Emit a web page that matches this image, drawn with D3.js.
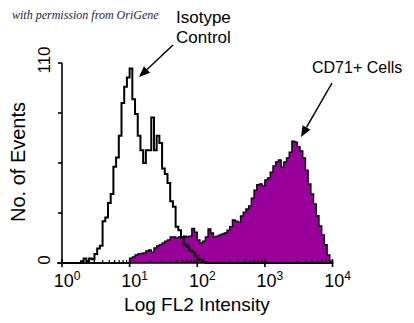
<!DOCTYPE html>
<html><head><meta charset="utf-8">
<script src="https://cdn.jsdelivr.net/npm/d3@7"></script>
<style>body{margin:0;background:#fff}svg{display:block}</style>
</head><body>
<script>
// ---- data ----
const binWidthLog = 0.04; // width of each histogram channel in decades
const isotypeCounts = [
 0,0,0,0,0,0,0,1,2.5,1, 2.5,2,5,8,9.5,23,25,33,38,53,
 58,70,88,97,102,107,90,82,70,62, 55,62,62,80,62,70,66,52,49,44,
 34,31,20,18,14,10,9,7,6,4, 2,1.5,0.5,0,0,0,0,0,0,0,
 0,0,0,0,0,0,0,0,0,0, 0,0,0,0,0,0,0,0,0,0,
 0,0,0,0,0,0,0,0,0,0, 0,0,0,0,0,0,0,0,0,0];
const cd71Counts = [
 0,0,0,0,0,0,0,0,0,0, 0,0,0,0,0,0,0,0,0,0,
 0,0,0,0,0,2.7,3.3,4.4,5,5.2, 5.5,6.6,7.2,6,8.3,9.4,10,11,12,12.7,
 14.3,14.3,13.8,14.3,14.3,14.8,14.3,14.8,19,17, 12.7,11,12,14.3,18.7,16.5,14.3,14.8,15.4,16,
 16.5,18,20,23.7,23,22.5,25.9,28,29.7,31.4, 35.7,40,43,43.5,42.4,45.7,46.8,50,53.4,55.6,
 56.7,52.8,55.6,57.8,61,67,66.5,64,61.6,57.8, 51,43.5,38,32.5,26,20.4,15.4,10,4.4,1];
const xDecades = [1,10,100,1000,10000];
const xExponents = ["0","1","2","3","4"];
const yTicks = [0,27.5,55,82.5,110];
const yTickLabels = ["0","","","","110"];

const W=414,H=323;
const svg=d3.select("body").append("svg").attr("width",W).attr("height",H);
const x=d3.scaleLog().domain([1,10000]).range([62,332.5]);
const y=d3.scaleLinear().domain([0,110]).range([263,63]);

function stepPoints(counts){
  const pts=counts.map((c,i)=>[Math.pow(10,i*binWidthLog),c]);
  pts.push([Math.pow(10,counts.length*binWidthLog),counts[counts.length-1]]);
  return pts;
}
const cdPts=stepPoints(cd71Counts);
const isoPts=stepPoints(isotypeCounts);

const area=d3.area().x(d=>x(d[0])).y0(y(0)).y1(d=>y(d[1])).curve(d3.curveStepAfter);
const line=d3.line().x(d=>x(d[0])).y(d=>y(d[1])).curve(d3.curveStepAfter);

svg.append("path").attr("d",area(cdPts)).attr("fill","#990099").attr("stroke","none");
svg.append("path").attr("d",line(cdPts)).attr("fill","none").attr("stroke","#000").attr("stroke-width",1.4);
svg.append("path").attr("d",line(isoPts)).attr("fill","none").attr("stroke","#000").attr("stroke-width",2);

// axes
const ax=svg.append("g").attr("stroke","#000").attr("stroke-width",1.6);
ax.append("line").attr("x1",62).attr("x2",62).attr("y1",y(110)).attr("y2",y(0));
ax.append("line").attr("x1",57).attr("x2",x(10000)+1).attr("y1",y(0)).attr("y2",y(0));
yTicks.forEach(t=>ax.append("line").attr("x1",58).attr("x2",62).attr("y1",y(t)).attr("y2",y(t)));
xDecades.forEach((d,k)=>{
  ax.append("line").attr("x1",x(d)).attr("x2",x(d)).attr("y1",y(0)-4).attr("y2",y(0)+4);
  if(k<xDecades.length-1){
    for(let m=2;m<10;m++){
      ax.append("line").attr("x1",x(d*m)).attr("x2",x(d*m)).attr("y1",y(0)-3).attr("y2",y(0)).attr("stroke-width",1.2);
    }
  }
});

const font="Liberation Sans, Arial, Helvetica, sans-serif";
// y tick labels (rotated)
yTicks.forEach((t,k)=>{
  if(!yTickLabels[k])return;
  svg.append("text").attr("transform",`translate(50,${y(t)-3}) rotate(-90)`)
    .attr("text-anchor","middle").attr("font-family",font).attr("font-size",17).text(yTickLabels[k]);
});
// x tick labels 10^n
xDecades.forEach((d,k)=>{
  const t=svg.append("text").attr("x",x(d)+5).attr("y",287).attr("text-anchor","middle")
    .attr("font-family",font).attr("font-size",18);
  t.append("tspan").text("10");
  t.append("tspan").attr("dy",-7).attr("font-size",12).text(xExponents[k]);
});
svg.append("text").attr("x",197).attr("y",311).attr("text-anchor","middle")
  .attr("font-family",font).attr("font-size",19).text("Log FL2 Intensity");
svg.append("text").attr("transform","translate(25,162) rotate(-90)").attr("text-anchor","middle")
  .attr("font-family",font).attr("font-size",20).text("No. of Events");

// annotations
svg.append("text").attr("x",12).attr("y",19).attr("font-family","Liberation Serif, Times New Roman, serif")
  .attr("font-style","italic").attr("font-size",12).attr("fill","#1c1c50").text("with permission from OriGene");
svg.append("text").attr("x",176).attr("y",23).attr("font-family",font).attr("font-size",17).text("Isotype");
svg.append("text").attr("x",176).attr("y",43).attr("font-family",font).attr("font-size",17).text("Control");
svg.append("text").attr("x",312).attr("y",73).attr("font-family",font).attr("font-size",16).text("CD71+ Cells");

function arrow(x1,y1,x2,y2){
  const a=Math.atan2(y2-y1,x2-x1), L=11, w=4.5;
  const bx=x2-L*Math.cos(a), by=y2-L*Math.sin(a);
  svg.append("line").attr("x1",x1).attr("y1",y1).attr("x2",bx).attr("y2",by).attr("stroke","#000").attr("stroke-width",1.5);
  const px=-Math.sin(a)*w, py=Math.cos(a)*w;
  svg.append("path").attr("d",`M${x2},${y2}L${bx+px},${by+py}L${bx-px},${by-py}Z`).attr("fill","#000");
}
arrow(173,45,139,77);
arrow(332,83,301,137);
</script>
</body></html>
